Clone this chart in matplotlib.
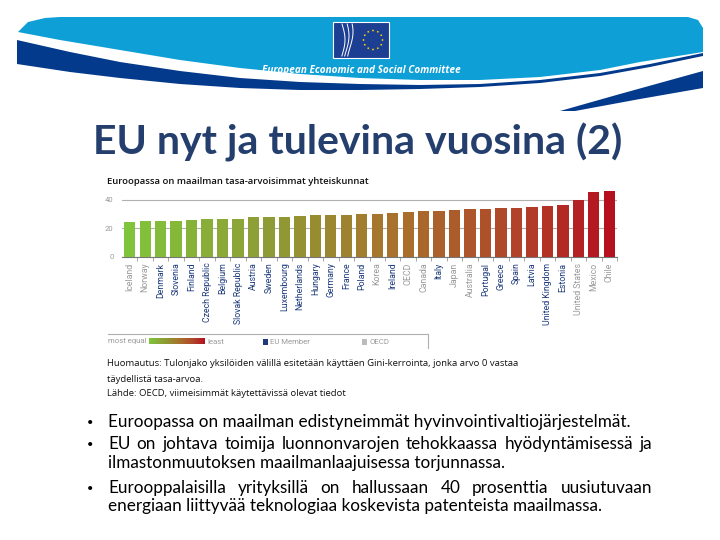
import numpy as np
import matplotlib
matplotlib.use("Agg")
import matplotlib.pyplot as plt
from matplotlib.colors import LinearSegmentedColormap
from matplotlib.patches import Polygon, Rectangle, Circle

# Gini coefficient (x100), OECD, latest available year
countries = ["Iceland", "Norway", "Denmark", "Slovenia", "Finland", "Czech Republic",
             "Belgium", "Slovak Republic", "Austria", "Sweden", "Luxembourg", "Netherlands",
             "Hungary", "Germany", "France", "Poland", "Korea", "Ireland", "OECD", "Canada",
             "Italy", "Japan", "Australia", "Portugal", "Greece", "Spain", "Latvia",
             "United Kingdom", "Estonia", "United States", "Mexico", "Chile"]
gini = [24.6, 25.0, 25.5, 25.5, 26.0, 26.4, 26.9, 26.9, 28.1, 28.3, 28.3, 28.5,
        29.2, 29.2, 29.5, 29.9, 30.2, 31.1, 31.8, 32.3, 32.5, 33.0, 33.9, 33.9,
        34.2, 34.6, 35.3, 35.8, 36.3, 39.8, 45.8, 46.5]
eu_member = [False, False, True, True, True, True, True, True, True, True, True, True,
             True, True, True, True, False, True, False, False, True, False, False, True,
             True, True, True, True, True, False, False, False]
yticks = [0, 20, 40]

title = "EU nyt ja tulevina vuosina (2)"
chart_title = "Euroopassa on maailman tasa-arvoisimmat yhteiskunnat"
note_lines = ["Huomautus: Tulonjako yksilöiden välillä esitetään käyttäen Gini-kerrointa, jonka arvo 0 vastaa",
              "täydellistä tasa-arvoa.",
              "Lähde: OECD, viimeisimmät käytettävissä olevat tiedot"]
bullets = [
    ["Euroopassa on maailman edistyneimmät hyvinvointivaltiojärjestelmät."],
    ["EU on johtava toimija luonnonvarojen tehokkaassa hyödyntämisessä ja",
     "ilmastonmuutoksen maailmanlaajuisessa torjunnassa."],
    ["Eurooppalaisilla yrityksillä on hallussaan 40 prosenttia uusiutuvaan",
     "energiaan liittyvää teknologiaa koskevista patenteista maailmassa."],
]

LIGHT = "#0d9fd6"
DARK = "#043a8c"
NAVY = "#1c3a7c"
GREY = "#9a9a9a"
BODY_SIZE = 12.3

cmap = LinearSegmentedColormap.from_list(
    "eq", [(0.0, "#80c43c"), (0.3, "#8f9a34"), (0.55, "#a8722c"),
           (0.8, "#b0452a"), (1.0, "#b5101f")])

fig = plt.figure(figsize=(7.2, 5.4), dpi=100)
fig.patch.set_facecolor("white")

# background axes in pixel coordinates for the slide decoration and text
bg = fig.add_axes([0, 0, 1, 1])
bg.set_xlim(0, 720)
bg.set_ylim(540, 0)
bg.axis("off")

# header banner
light = [(18, 32), (28, 22), (45, 18), (60, 17), (688, 17), (698, 20), (703, 28), (703, 52),
         (640, 62), (600, 70), (540, 77), (480, 80), (420, 80), (360, 78), (300, 74),
         (240, 68), (180, 60), (120, 50), (60, 40)]
bg.add_patch(Polygon(light, closed=True, fc=LIGHT, ec="none"))
dark = [(17, 40), (70, 52), (120, 62), (180, 71), (240, 78), (300, 82), (360, 84),
        (420, 85), (480, 84), (540, 80), (600, 73), (650, 64), (703, 53), (703, 56),
        (650, 67), (600, 76), (540, 83), (480, 87), (420, 89), (360, 90), (300, 90),
        (240, 88), (180, 84), (120, 78), (70, 72), (17, 64)]
bg.add_patch(Polygon(dark, closed=True, fc=DARK, ec="none"))
bg.add_patch(Polygon([(560, 111), (620, 94), (703, 71), (703, 88), (640, 99), (575, 111)],
                     closed=True, fc=DARK, ec="none"))

# logo
bg.add_patch(Rectangle((333, 22), 56, 36, fc="#1d3f93", ec="white", lw=0.8))
for k, dx in enumerate([0, 4, 8]):
    yy = np.linspace(24, 56, 20)
    xx = 342 + dx + 3 * np.sin((yy - 24) / 10.0 + k * 0.4)
    bg.plot(xx, yy, color="white", lw=0.7)
for a in np.linspace(0, 2 * np.pi, 12, endpoint=False):
    bg.add_patch(Circle((373 + 9.5 * np.cos(a), 40 + 9.5 * np.sin(a)), 0.9, fc="#f5d000", ec="none"))
bg.text(361, 70, "European Economic and Social Committee", color="white", fontsize=7.2,
        fontweight="bold", style="italic", ha="center", va="center", family="Open Sans")

# slide title
bg.text(358, 142, title, color="#243f6e", fontsize=29.5, fontweight="bold",
        ha="center", va="center", family="Lato")

# chart title
bg.text(107, 182, chart_title, color="#111111", fontsize=6.8, fontweight="semibold",
        ha="left", va="center", family="Open Sans")

# chart
ax = fig.add_axes([122 / 720, 1 - 257 / 540, 495 / 720, 48 * 1.425 / 540])
x = np.arange(len(countries))
colors = [cmap(i / (len(countries) - 1)) for i in range(len(countries))]
ax.bar(x, gini, width=0.73, color=colors, zorder=3)
ax.set_xlim(-0.5, len(countries) - 0.5)
ax.set_ylim(0, 48)
ax.set_yticks(yticks)
ax.set_yticklabels([str(v) for v in yticks], fontsize=5.5, color=GREY, family="Roboto")
ax.tick_params(axis="y", length=0, pad=6)
ax.grid(axis="y", color="#b0b0b0", lw=0.8, zorder=0)
for s in ["top", "right", "left"]:
    ax.spines[s].set_visible(False)
ax.spines["bottom"].set_color("#777777")
ax.spines["bottom"].set_linewidth(0.8)
ax.set_xticks(x + 0.5, minor=True)
ax.set_xticks(x)
ax.set_xticklabels(countries, rotation=90, fontsize=6.3, family="Roboto")
ax.tick_params(axis="x", which="major", length=0, pad=4)
ax.tick_params(axis="x", which="minor", length=3, color="#999999")
for lab, eu in zip(ax.get_xticklabels(), eu_member):
    lab.set_color(NAVY if eu else GREY)
ax.patch.set_alpha(0)

# legend strip
bg.plot([108, 428], [334, 334], color="#b0b0b0", lw=0.8)
bg.plot([428, 428], [334, 348], color="#b0b0b0", lw=0.8)
bg.text(108, 341.5, "most equal", fontsize=5.6, color=GREY, va="center", family="Roboto")
grad = np.linspace(0, 1, 100).reshape(1, -1)
bg.imshow(grad, cmap=cmap, extent=[149, 205, 344.5, 338.5], aspect="auto")
bg.text(207, 341.5, "least", fontsize=5.6, color=GREY, va="center", family="Roboto")
bg.add_patch(Rectangle((263, 338.5), 5, 6, fc=NAVY, ec="none"))
bg.text(270, 341.5, "EU Member", fontsize=5.6, color=GREY, va="center", family="Roboto")
bg.add_patch(Rectangle((362, 338.5), 5, 6, fc="#bbbbbb", ec="none"))
bg.text(369, 341.5, "OECD", fontsize=5.6, color=GREY, va="center", family="Roboto")
bg.set_xlim(0, 720)
bg.set_ylim(540, 0)

# note
for i, line in enumerate(note_lines):
    bg.text(107, 364 + i * 15, line, fontsize=6.8, color="#111111", va="center", family="Open Sans")

# bullets (justified where the paragraph wraps)
renderer = fig.canvas.get_renderer()


def justified(line, y, x0, x1):
    words = line.split(" ")
    ts = [bg.text(x0, y, w, fontsize=BODY_SIZE, va="center", family="Lato") for w in words]
    widths = [t.get_window_extent(renderer).width for t in ts]
    gap = (x1 - x0 - sum(widths)) / (len(ts) - 1)
    xx = x0
    for t, w in zip(ts, widths):
        t.set_x(xx)
        xx += w + gap


line_y = [[422], [444, 463], [488, 506]]
for para, ys in zip(bullets, line_y):
    bg.text(87, ys[0], "•", fontsize=8, va="center", family="Lato")
    for j, (line, y) in enumerate(zip(para, ys)):
        if j < len(para) - 1:
            justified(line, y, 108, 652)
        else:
            bg.text(108, y, line, fontsize=BODY_SIZE, va="center", family="Lato")

fig.savefig("out.png", dpi=100)
